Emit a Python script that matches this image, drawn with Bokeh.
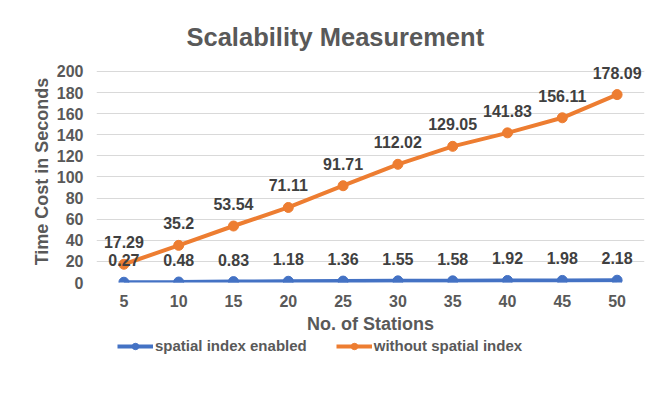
from bokeh.plotting import figure
from bokeh.layouts import column
from bokeh.models import ColumnDataSource, FactorRange, Range1d, LabelSet, Legend, LegendItem
from bokeh.core.properties import value
from bokeh.embed import file_html
from bokeh.resources import INLINE

stations = ["5", "10", "15", "20", "25", "30", "35", "40", "45", "50"]
with_index = [0.27, 0.48, 0.83, 1.18, 1.36, 1.55, 1.58, 1.92, 1.98, 2.18]
without_index = [17.29, 35.2, 53.54, 71.11, 91.71, 112.02, 129.05, 141.83, 156.11, 178.09]
y_ticks = [0, 20, 40, 60, 80, 100, 120, 140, 160, 180, 200]
series_names = ["spatial index enabled", "without spatial index"]

BLUE = "#4472C4"
ORANGE = "#ED7D31"
TXT = "#595959"
LBL = "#404040"
FONT = "Liberation Sans"

src_b = ColumnDataSource(dict(x=stations, y=with_index, label=[str(v) for v in with_index]))
src_o = ColumnDataSource(dict(x=stations, y=without_index, label=[str(v) for v in without_index]))

p = figure(width=650, height=336, x_range=FactorRange(*stations, range_padding=0),
           y_range=Range1d(0, 210.4), output_backend="svg", toolbar_location=None,
           min_border_left=96, min_border_right=6, min_border_top=60, min_border_bottom=54)
p.outline_line_color = None
p.background_fill_color = "white"
p.border_fill_color = "white"

p.title.text = "Scalability Measurement"
p.title.align = "left"
p.title.offset = 90
p.title.text_font = FONT
p.title.text_font_size = "25.5px"
p.title.text_font_style = "bold"
p.title.text_color = TXT
p.title.standoff = 19

p.line("x", "y", source=src_b, line_color=BLUE, line_width=4)
p.scatter("x", "y", source=src_b, size=10, fill_color=BLUE, line_color=BLUE)
p.line("x", "y", source=src_o, line_color=ORANGE, line_width=4)
p.scatter("x", "y", source=src_o, size=10, fill_color=ORANGE, line_color=ORANGE)

for s in (src_b, src_o):
    p.add_layout(LabelSet(x="x", y="y", text="label", source=s, y_offset=22,
                          text_align="center", text_baseline="middle",
                          text_font=value(FONT), text_font_size=value("16px"),
                          text_font_style=value("bold"), text_color=value(LBL)))

p.yaxis.ticker = y_ticks
p.ygrid.ticker = y_ticks
p.ygrid.grid_line_color = "#d9d9d9"
p.ygrid.grid_line_width = 1
p.xgrid.visible = False

for ax in (p.xaxis[0], p.yaxis[0]):
    ax.axis_line_color = None
    ax.major_tick_line_color = None
    ax.minor_tick_line_color = None
    ax.major_label_text_font = FONT
    ax.major_label_text_font_size = "16px"
    ax.major_label_text_font_style = "bold"
    ax.major_label_text_color = TXT
    ax.axis_label_text_font = FONT
    ax.axis_label_text_font_size = "18px"
    ax.axis_label_text_font_style = "bold"
    ax.axis_label_text_color = TXT

p.yaxis.axis_label = "Time Cost in Seconds"
p.xaxis.axis_label = "No. of Stations"
p.yaxis.major_label_standoff = 7
p.yaxis.axis_label_standoff = 2
p.xaxis.major_label_standoff = 6
p.xaxis.axis_label_standoff = 4

# legend strip below the chart: same series drawn off-range, only their legend swatches show
lf = figure(width=650, height=54, x_range=FactorRange(*stations, range_padding=0),
            y_range=Range1d(-2, -1), x_axis_type=None, y_axis_type=None,
            output_backend="svg", toolbar_location=None, min_border=0)
lf.outline_line_color = None
lf.grid.visible = False
items = []
for name, col, s in zip(series_names, (BLUE, ORANGE), (src_b, src_o)):
    r1 = lf.line("x", "y", source=s, line_color=col, line_width=4)
    r2 = lf.scatter("x", "y", source=s, size=10, fill_color=col, line_color=col)
    items.append(LegendItem(label=name, renderers=[r1, r2]))

legend = Legend(items=items, orientation="horizontal", location=(21, 36))
legend.border_line_alpha = 0
legend.background_fill_alpha = 0
legend.padding = 0
legend.margin = 0
legend.spacing = 29
legend.label_standoff = 2
legend.glyph_width = 36
legend.glyph_height = 16
legend.label_height = 16
legend.label_text_font = FONT
legend.label_text_font_size = "15px"
legend.label_text_font_style = "bold"
legend.label_text_color = TXT
lf.add_layout(legend)

open("out.html", "w").write(file_html(column(p, lf), INLINE))
